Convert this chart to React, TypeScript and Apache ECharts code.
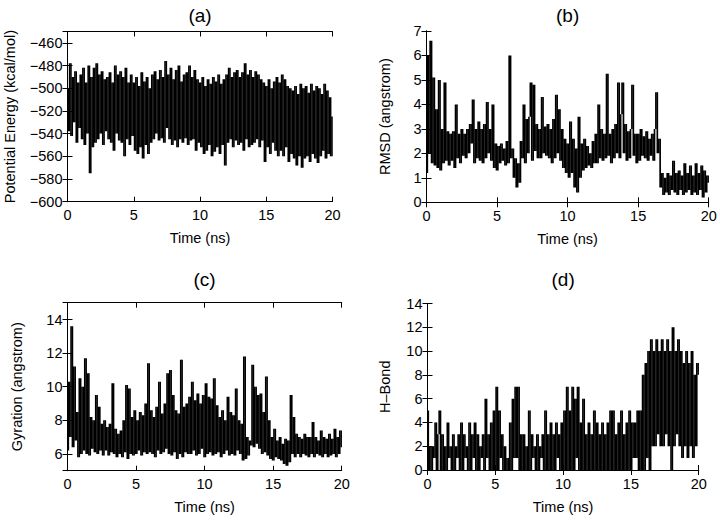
import React, { useEffect, useRef } from "react";
import * as echarts from "echarts";

// sampling step of all four traces (ns)
const TIME_STEP = 0.1;
const X_TICKS = [0, 5, 10, 15, 20];

// (a) Potential energy, kcal/mol, every 0.1 ns
const energy = [
  -500, -538, -478, -542, -490, -530, -485, -548, -495, -535,
  -488, -545, -482, -550, -495, -540, -480, -575, -490, -552,
  -482, -548, -478, -545, -488, -540, -485, -550, -492, -538,
  -490, -545, -486, -548, -495, -555, -480, -540, -488, -546,
  -485, -548, -490, -560, -482, -545, -495, -550, -488, -542,
  -495, -555, -490, -558, -498, -552, -486, -562, -494, -550,
  -490, -558, -500, -548, -488, -545, -485, -540, -492, -546,
  -484, -544, -490, -548, -476, -535, -488, -545, -482, -550,
  -492, -546, -484, -552, -480, -545, -494, -548, -488, -544,
  -486, -550, -480, -546, -490, -545, -484, -555, -492, -548,
  -495, -552, -490, -558, -498, -555, -492, -550, -496, -560,
  -490, -556, -494, -552, -488, -558, -496, -550, -492, -568,
  -488, -548, -482, -545, -490, -552, -486, -546, -484, -550,
  -490, -548, -486, -555, -478, -545, -488, -552, -484, -550,
  -490, -548, -485, -545, -488, -552, -492, -546, -495, -565,
  -498, -552, -492, -558, -500, -548, -494, -555, -490, -560,
  -495, -555, -488, -560, -492, -552, -498, -565, -500, -558,
  -502, -562, -498, -568, -505, -560, -496, -570, -500, -562,
  -498, -560, -504, -565, -496, -558, -502, -562, -498, -566,
  -500, -560, -505, -555, -496, -562, -502, -558, -508, -560,
  -525,
];

// (b) RMSD, angstrom
const rmsd = [
  1.2, 6.0, 2.0, 6.6, 1.6, 5.1, 1.5, 3.8, 1.4, 5.0,
  1.3, 3.0, 1.6, 4.9, 1.7, 2.9, 1.5, 2.8, 1.7, 2.9,
  1.4, 4.0, 1.8, 2.8, 1.6, 3.0, 1.9, 2.8, 1.8, 3.0,
  2.0, 3.2, 2.4, 4.2, 1.6, 3.0, 1.8, 3.3, 1.7, 3.0,
  1.6, 3.2, 1.8, 4.1, 2.0, 3.0, 1.7, 4.0, 1.4, 2.4,
  1.3, 2.3, 1.6, 2.4, 1.7, 2.2, 1.5, 2.5, 1.6, 6.0,
  1.8, 2.2, 1.0, 1.8, 0.6, 1.6, 0.8, 2.5, 1.8, 4.0,
  1.6, 3.4, 2.0, 3.5, 4.9, 1.7, 4.8, 2.1, 3.2, 1.8,
  3.0, 1.8, 4.3, 2.0, 3.1, 1.9, 3.2, 1.8, 3.0, 1.6,
  3.4, 1.8, 4.4, 2.0, 3.8, 1.7, 3.0, 1.4, 2.6, 1.2,
  2.4, 1.0, 3.3, 1.2, 2.6, 0.6, 2.2, 0.4, 3.5, 1.0,
  2.4, 1.3, 2.6, 1.4, 2.3, 1.5, 2.0, 1.4, 2.5, 1.6,
  2.8, 1.6, 4.0, 1.8, 3.0, 1.7, 2.8, 1.8, 5.25, 1.9,
  2.8, 1.6, 3.0, 1.8, 3.2, 2.0, 4.9, 1.8, 3.6, 4.9,
  2.0, 3.2, 1.7, 2.9, 1.8, 3.0, 4.8, 1.9, 2.8, 1.6,
  2.8, 1.7, 3.0, 1.9, 2.7, 1.8, 2.9, 1.7, 2.6, 1.9,
  2.8, 1.7, 3.0, 4.5, 2.0, 2.6, 0.6, 1.2, 0.3, 1.0,
  0.4, 1.2, 0.3, 1.1, 0.5, 1.7, 0.4, 1.2, 0.3, 1.3,
  0.5, 1.1, 0.3, 1.6, 0.4, 1.2, 0.5, 1.5, 0.3, 1.1,
  0.4, 1.6, 0.3, 1.2, 0.5, 1.5, 0.2, 1.3, 0.4, 1.1,
  0.8,
];

// (c) Radius of gyration, angstrom
const gyration = [
  6.2, 10.3, 7.0, 13.6, 6.4, 11.2, 6.8, 8.5, 5.8, 10.5,
  6.0, 10.0, 6.2, 11.7, 6.0, 10.8, 5.9, 8.2, 6.3, 8.0,
  6.1, 9.5, 6.0, 8.8, 6.2, 7.8, 5.9, 8.0, 6.2, 7.6,
  5.9, 7.8, 6.1, 10.2, 6.0, 7.5, 5.8, 7.2, 6.0, 7.4,
  5.8, 8.0, 6.1, 10.1, 5.7, 9.9, 6.0, 8.2, 5.9, 8.6,
  6.0, 8.0, 6.2, 8.5, 5.9, 8.3, 6.1, 9.0, 6.0, 11.4,
  6.1, 8.6, 6.0, 8.2, 5.8, 8.8, 6.2, 10.3, 6.0, 8.4,
  6.1, 9.0, 6.3, 10.8, 6.0, 11.0, 5.9, 9.5, 6.1, 8.6,
  5.7, 8.4, 6.0, 11.6, 5.8, 8.8, 6.1, 9.0, 6.0, 9.4,
  6.0, 10.3, 6.2, 9.2, 5.9, 9.6, 6.0, 9.0, 6.3, 9.5,
  5.8, 10.2, 6.0, 9.4, 6.1, 9.3, 5.9, 10.5, 6.0, 8.9,
  6.1, 8.2, 5.8, 8.6, 6.0, 8.0, 6.2, 9.4, 5.9, 8.5,
  6.0, 8.3, 5.9, 9.9, 6.2, 8.0, 6.0, 7.8, 5.6, 11.8,
  5.7, 7.0, 5.9, 6.8, 6.5, 11.3, 6.4, 10.0, 6.6, 9.5,
  6.3, 9.6, 6.0, 8.5, 6.1, 10.6, 5.9, 8.0, 5.7, 7.0,
  5.6, 7.5, 5.8, 6.8, 5.7, 7.0, 5.6, 6.6, 5.4, 6.9,
  5.3, 6.8, 5.5, 9.5, 6.0, 8.2, 5.8, 7.2, 6.0, 7.0,
  5.8, 6.9, 6.0, 7.2, 5.9, 7.0, 5.8, 7.0, 6.0, 7.9,
  5.8, 7.0, 6.0, 6.8, 5.9, 7.4, 5.8, 7.0, 6.0, 6.9,
  5.8, 7.2, 5.9, 6.9, 6.0, 7.5, 5.8, 7.0, 6.0, 7.4,
  6.4,
];

// (d) Number of hydrogen bonds
const hbond = [
  5, 0, 2, 0, 2, 1, 4, 0, 3, 5,
  0, 3, 0, 2, 0, 4, 1, 2, 0, 3,
  0, 2, 1, 3, 0, 4, 0, 3, 1, 2,
  0, 4, 0, 3, 1, 4, 0, 3, 0, 2,
  1, 3, 0, 6, 1, 3, 0, 4, 0, 5,
  0, 7, 0, 5, 1, 3, 0, 2, 0, 1,
  0, 4, 0, 6, 1, 7, 1, 7, 0, 3,
  0, 3, 0, 2, 0, 5, 0, 3, 1, 2,
  0, 3, 0, 2, 1, 3, 0, 5, 0, 3,
  0, 4, 0, 3, 0, 4, 1, 3, 0, 4,
  0, 5, 0, 7, 0, 5, 0, 7, 0, 6,
  1, 7, 0, 4, 0, 6, 0, 3, 0, 4,
  0, 3, 0, 5, 0, 4, 0, 3, 0, 4,
  0, 3, 0, 4, 0, 5, 0, 5, 0, 3,
  0, 4, 0, 5, 0, 3, 0, 4, 0, 5,
  0, 4, 1, 4, 1, 5, 0, 5, 0, 8,
  0, 9, 1, 10, 0, 11, 2, 10, 2, 11,
  3, 10, 2, 11, 2, 10, 3, 11, 2, 10,
  0, 12, 2, 10, 3, 11, 2, 10, 1, 9,
  2, 10, 1, 9, 2, 10, 1, 8, 2, 9,
  8,
];

const FONT = "'Liberation Sans', Arial, Helvetica, sans-serif";

// Each trace segment [t_i, v_i, t_{i+1}, v_{i+1}]; drawn as the vertical
// extent it sweeps, which is how a densely sampled trace appears.
const toSegments = (arr: number[]) => {
  const out: number[][] = [];
  for (let i = 0; i < arr.length - 1; i++) {
    const t0 = Math.round(i * TIME_STEP * 100) / 100;
    const t1 = Math.round((i + 1) * TIME_STEP * 100) / 100;
    out.push([t0, arr[i], t1, arr[i + 1]]);
  }
  return out;
};

const minus = (v: number) => String(v).replace("-", "\u2212");

const panels = [
  {
    title: "(a)",
    titleY: 15,
    grid: { left: 67.5, top: 31.5, width: 265, height: 170.2 },
    y: { min: -600, max: -450, interval: 20 as number | undefined, step: 20 },
    yName: "Potential Energy (kcal/mol)",
    yNameGap: 50,
    data: energy,
  },
  {
    title: "(b)",
    titleY: 15,
    grid: { left: 426.5, top: 31, width: 282.2, height: 171.3 },
    y: { min: 0, max: 7, interval: 1 as number | undefined, step: 1 },
    yName: "RMSD (angstrom)",
    yNameGap: 34,
    data: rmsd,
  },
  {
    title: "(c)",
    titleY: 279,
    grid: { left: 67.5, top: 302.7, width: 274.2, height: 168 },
    y: { min: 5, max: 15, interval: undefined as number | undefined, step: 2 },
    yName: "Gyration (angstrom)",
    yNameGap: 43,
    data: gyration,
  },
  {
    title: "(d)",
    titleY: 279,
    grid: { left: 427.5, top: 303.5, width: 271.2, height: 166.5 },
    y: { min: 0, max: 14, interval: 2 as number | undefined, step: 2 },
    yName: "H\u2013Bond",
    yNameGap: 35,
    data: hbond,
  },
];

export default function App() {
  const ref = useRef<HTMLDivElement>(null);

  useEffect(() => {
    if (!ref.current) return;
    const chart = echarts.init(ref.current, undefined, { renderer: "svg" });

    const axisLine = { show: true, lineStyle: { color: "#000", width: 1 } };
    const tick = { show: true, inside: true, length: 5, lineStyle: { color: "#000", width: 1 } };
    const labelStyle = { color: "#000", fontFamily: FONT, fontSize: 14.5 };
    const nameStyle = { color: "#000", fontFamily: FONT, fontSize: 14.5 };

    const grids: any[] = [];
    const xAxes: any[] = [];
    const yAxes: any[] = [];
    const series: any[] = [];
    const graphics: any[] = [];

    panels.forEach((p, k) => {
      grids.push({ ...p.grid, containLabel: false, outerBoundsMode: "none" });
      const xBase = {
        gridIndex: k,
        type: "value",
        min: 0,
        max: 20,
        interval: 5,
        axisLine,
        axisTick: tick,
        splitLine: { show: false },
      };
      xAxes.push({
        ...xBase,
        position: "bottom",
        name: "Time (ns)",
        nameLocation: "middle",
        nameGap: 29,
        nameTextStyle: nameStyle,
        axisLabel: {
          ...labelStyle,
          margin: 6,
          formatter: (v: number) => (X_TICKS.includes(v) ? String(v) : ""),
        },
      });
      xAxes.push({ ...xBase, position: "top", axisLabel: { show: false } });

      const yBase: any = {
        gridIndex: k,
        type: "value",
        min: p.y.min,
        max: p.y.max,
        axisLine,
        axisTick: tick,
        splitLine: { show: false },
      };
      if (p.y.interval !== undefined) yBase.interval = p.y.interval;
      else yBase.splitNumber = 5;
      const stepY = p.y.step;
      yAxes.push({
        ...yBase,
        position: "left",
        name: p.yName,
        nameLocation: "middle",
        nameGap: p.yNameGap,
        nameRotate: 90,
        nameTextStyle: nameStyle,
        axisLabel: {
          ...labelStyle,
          margin: 5,
          formatter: (v: number) =>
            Math.abs(v % stepY) < 1e-9 ? minus(v) : "",
        },
      });
      yAxes.push({ ...yBase, position: "right", axisLabel: { show: false } });

      series.push({
        type: "custom",
        xAxisIndex: 2 * k,
        yAxisIndex: 2 * k,
        data: toSegments(p.data),
        encode: { x: [0, 2], y: [1, 3] },
        silent: true,
        clip: true,
        renderItem: (_params: any, api: any) => {
          const a = api.coord([api.value(0), api.value(1)]);
          const b = api.coord([api.value(2), api.value(3)]);
          const top = Math.min(a[1], b[1]);
          const h = Math.max(Math.abs(a[1] - b[1]), 1);
          return {
            type: "rect",
            shape: { x: a[0], y: top, width: b[0] - a[0] + 0.25, height: h },
            style: { fill: "#000" },
          };
        },
      });

      const cx = p.grid.left + p.grid.width / 2;
      graphics.push({
        type: "text",
        x: cx,
        y: p.titleY,
        style: {
          text: p.title,
          align: "center",
          verticalAlign: "middle",
          fontSize: 19,
          fontFamily: FONT,
          fill: "#000",
        },
      });
    });

    chart.setOption({
      animation: false,
      backgroundColor: "#fff",
      grid: grids,
      xAxis: xAxes,
      yAxis: yAxes,
      series,
      graphic: graphics,
    });

    return () => chart.dispose();
  }, []);

  return (
    <div
      ref={ref}
      style={{ position: "fixed", left: 0, top: 0, width: 720, height: 522, background: "#fff" }}
    />
  );
}
